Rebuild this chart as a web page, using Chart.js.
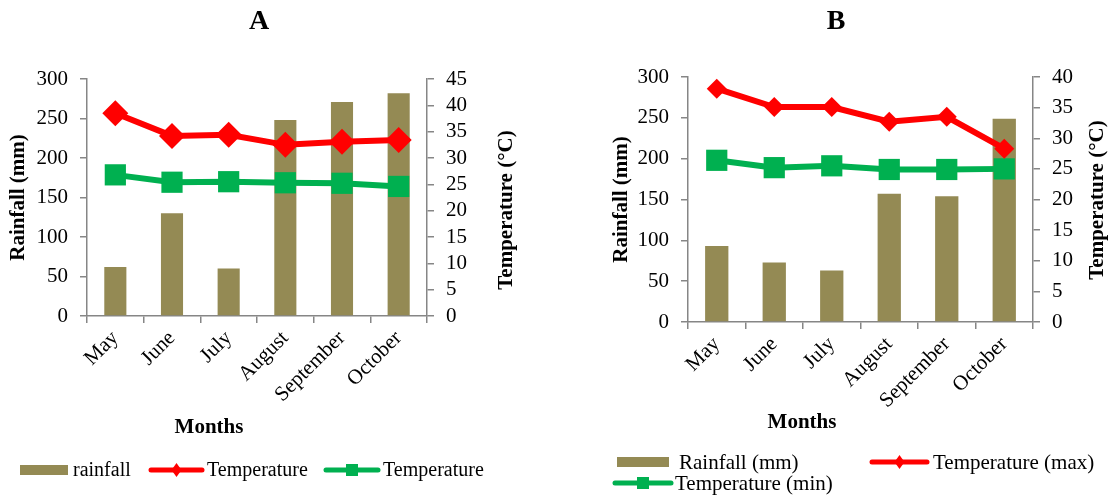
<!DOCTYPE html>
<html>
<head>
<meta charset="utf-8">
<script src="https://cdn.jsdelivr.net/npm/chart.js@4.4.0/dist/chart.umd.min.js"></script>
<style>
  html, body { margin: 0; padding: 0; background: #fff; }
  #wrap { position: relative; width: 1109px; height: 496px; }
  .box { position: absolute; top: 0; height: 496px; }
</style>
</head>
<body>
<div id="wrap">
  <div class="box" style="left:0;width:545px"><canvas id="chartA"></canvas></div>
  <div class="box" style="left:545px;width:564px"><canvas id="chartB"></canvas></div>
</div>
<script>
// データ
const months = ["May", "June", "July", "August", "September", "October"];

const rainA = [62, 130, 60, 248, 271, 282];
const tmaxA = [38.5, 34.2, 34.4, 32.5, 33.1, 33.4];
const tminA = [26.8, 25.4, 25.5, 25.3, 25.2, 24.6];

const rainB = [93, 73, 63, 157, 154, 249];
const tmaxB = [38.1, 35.1, 35.1, 32.7, 33.5, 28.3];
const tminB = [26.4, 25.2, 25.5, 24.9, 24.9, 25.0];

const rainMax = 300, rainStep = 50;
const tempMaxA = 45, tempMaxB = 40, tempStep = 5;

const legendA = ["rainfall", "Temperature", "Temperature"];
const legendB = ["Rainfall (mm)", "Temperature (max)", "Temperature (min)"];

const FONT = "'Liberation Serif', 'Times New Roman', serif";
const BAR = "#948A54", RED = "#FF0000", GREEN = "#00B050", AXIS = "#868686";

// タイトル・右軸タイトル・凡例を描くプラグイン
function decor(cfg) {
  return {
    id: "decor" + cfg.letter,
    afterDraw(chart) {
      const ctx = chart.ctx;
      const area = chart.chartArea;
      ctx.save();
      ctx.fillStyle = "#000";
      ctx.textAlign = "center";
      ctx.textBaseline = "middle";

      ctx.font = "bold 28px " + FONT;
      ctx.fillText(cfg.letter, cfg.letterX, 22);

      ctx.font = "bold 21px " + FONT;
      ctx.fillText("Months", cfg.xTitleX, cfg.xTitleY);

      ctx.save();
      ctx.translate(cfg.leftTitleX, (area.top + area.bottom) / 2);
      ctx.rotate(-Math.PI / 2);
      ctx.fillText("Rainfall (mm)", 0, 0);
      ctx.restore();

      ctx.save();
      ctx.translate(cfg.rightTitleX, cfg.rightTitleY);
      ctx.rotate(-Math.PI / 2);
      ctx.fillText("Temperature (°C)", 0, 0);
      ctx.restore();

      // 凡例
      ctx.font = cfg.legendSize + "px " + FONT;
      ctx.textAlign = "left";
      cfg.legend.forEach((it, i) => {
        const ds = chart.data.datasets[i];
        if (it.kind === "bar") {
          ctx.fillStyle = ds.backgroundColor;
          ctx.fillRect(it.x1, it.y - 5, it.x2 - it.x1, 10);
        } else {
          ctx.strokeStyle = ds.borderColor;
          ctx.lineWidth = 5;
          ctx.lineCap = "round";
          ctx.beginPath();
          ctx.moveTo(it.x1, it.y);
          ctx.lineTo(it.x2, it.y);
          ctx.stroke();
          ctx.fillStyle = ds.borderColor;
          const m = (it.x1 + it.x2) / 2;
          ctx.beginPath();
          if (it.kind === "diamond") {
            ctx.moveTo(m, it.y - 7); ctx.lineTo(m + 5, it.y);
            ctx.lineTo(m, it.y + 7); ctx.lineTo(m - 5, it.y);
          } else {
            ctx.rect(m - 6, it.y - 6, 12, 12);
          }
          ctx.closePath();
          ctx.fill();
        }
        ctx.fillStyle = "#000";
        ctx.fillText(ds.label, it.tx, it.y + 1);
      });
      ctx.restore();
    }
  };
}

function makeChart(id, rain, tmax, tmin, labels, tempMax, lay, cfg) {
  const tickFont = { family: FONT, size: 21 };
  const gridOpt = { drawOnChartArea: false, drawTicks: true, tickLength: 7, color: AXIS, lineWidth: 1.5 };
  return new Chart(document.getElementById(id), {
    type: "bar",
    data: {
      labels: months,
      datasets: [
        { type: "bar", label: labels[0], data: rain, yAxisID: "y", order: 3,
          backgroundColor: BAR, borderWidth: 0,
          categoryPercentage: 1, barPercentage: lay.barPct },
        { type: "line", label: labels[1], data: tmax, yAxisID: "y1", order: 1,
          borderColor: RED, backgroundColor: RED, borderWidth: 6, tension: 0,
          pointStyle: "rectRot", pointRadius: lay.diamond, pointBorderWidth: 0 },
        { type: "line", label: labels[2], data: tmin, yAxisID: "y1", order: 2,
          borderColor: GREEN, backgroundColor: GREEN, borderWidth: 6, tension: 0,
          pointStyle: "rect", pointRadius: 15, pointBorderWidth: 0 }
      ]
    },
    options: {
      responsive: true,
      maintainAspectRatio: false,
      animation: false,
      layout: { padding: { top: lay.top, left: 0, right: 0, bottom: 0 } },
      plugins: { legend: { display: false }, title: { display: false }, tooltip: { enabled: false } },
      scales: {
        x: {
          grid: gridOpt,
          border: { color: AXIS, width: 1.5 },
          ticks: { font: tickFont, color: "#000", maxRotation: 45, minRotation: 45, autoSkip: false, padding: 3 },
          afterFit: s => { s.height = lay.xh; }
        },
        y: {
          position: "left", min: 0, max: rainMax,
          grid: gridOpt,
          border: { color: AXIS, width: 1.5 },
          ticks: { stepSize: rainStep, font: tickFont, color: "#000", padding: 12, autoSkip: false },
          afterFit: s => { s.width = lay.lw; }
        },
        y1: {
          position: "right", min: 0, max: tempMax,
          grid: gridOpt,
          border: { color: AXIS, width: 1.5 },
          ticks: { stepSize: tempStep, font: tickFont, color: "#000", padding: 12, autoSkip: false },
          afterFit: s => { s.width = lay.rw; }
        }
      }
    },
    plugins: [decor(cfg)]
  });
}

makeChart("chartA", rainA, tmaxA, tminA, legendA, tempMaxA,
  { top: 79, xh: 180, lw: 87, rw: 118, barPct: 0.39, diamond: 13 },
  { letter: "A", letterX: 259, xTitleX: 209, xTitleY: 428, leftTitleX: 19,
    rightTitleX: 507, rightTitleY: 210, legendSize: 20,
    legend: [
      { kind: "bar", x1: 20, x2: 68, tx: 73, y: 470 },
      { kind: "diamond", x1: 151, x2: 202, tx: 207, y: 470 },
      { kind: "square", x1: 326, x2: 378, tx: 383, y: 470 }
    ] });

makeChart("chartB", rainB, tmaxB, tminB, legendB, tempMaxB,
  { top: 77, xh: 174, lw: 143, rw: 76, barPct: 0.405, diamond: 10 },
  { letter: "B", letterX: 291, xTitleX: 257, xTitleY: 423, leftTitleX: 77,
    rightTitleX: 553, rightTitleY: 200, legendSize: 21,
    legend: [
      { kind: "bar", x1: 72, x2: 124, tx: 134, y: 462 },
      { kind: "diamond", x1: 327, x2: 382, tx: 388, y: 462 },
      { kind: "square", x1: 70, x2: 126, tx: 130, y: 483 }
    ] });
</script>
</body>
</html>
